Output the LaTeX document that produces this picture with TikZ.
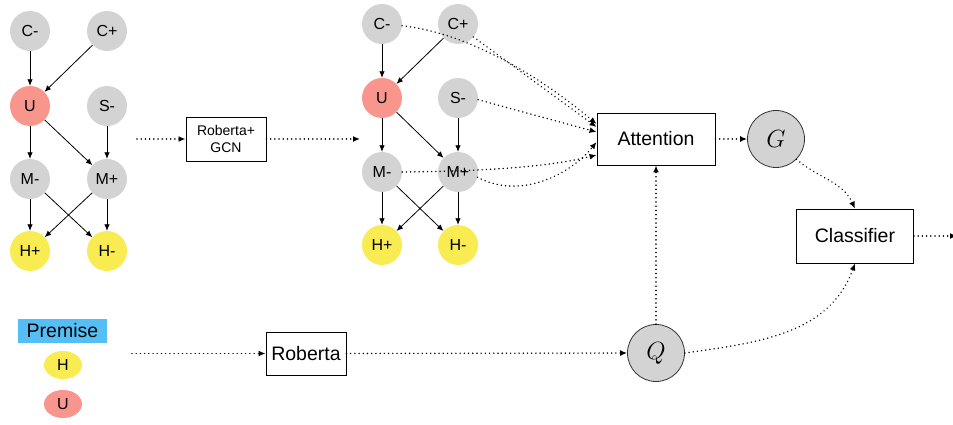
\documentclass[tikz,border=0pt]{standalone}
\usepackage{fontspec}
\setmainfont{Liberation Sans}
\usetikzlibrary{arrows.meta,calc,shapes.geometric}
\definecolor{gnode}{RGB}{211,211,211}
\definecolor{rnode}{RGB}{248,150,141}
\definecolor{ynode}{RGB}{249,236,82}
\definecolor{bnode}{RGB}{85,190,245}
\definecolor{cborder}{RGB}{50,50,50}
\begin{document}
\begin{tikzpicture}[x=1pt,y=1pt,
  gn/.style={circle,minimum size=40pt,inner sep=0pt,fill=gnode,font=\fontsize{16}{19}\selectfont},
  rn/.style={gn,fill=rnode},
  yn/.style={gn,fill=ynode},
  gedge/.style={line width=0.8pt,-{Latex[length=6.5pt,width=5.5pt]}},
  dotline/.style={line width=1.6pt,line cap=round,dash pattern=on 0.01pt off 4.2pt,-{Latex[length=7pt,width=6pt]}},
  boxs/.style={draw,line width=0.9pt,inner sep=0pt,align=center},
  bigfont/.style={font=\fontsize{19.5}{23}\selectfont},
  mcirc/.style={circle,minimum size=57pt,inner sep=0pt,fill=gnode,draw=cborder,line width=0.8pt,font=\fontsize{25}{28}\selectfont},
  pell/.style={ellipse,minimum width=38pt,minimum height=28pt,inner sep=0pt,font=\fontsize{16}{19}\selectfont}
]
\useasboundingbox (0,0) rectangle (953,-425);

% left graph
\node[gn] (lcm) at (30,-31) {C-};
\node[gn] (lcp) at (107,-31) {C+};
\node[rn] (lu) at (30,-106) {U};
\node[gn] (lsm) at (107,-106) {S-};
\node[gn] (lmm) at (30,-179) {M-};
\node[gn] (lmp) at (107,-179) {M+};
\node[yn] (lhp) at (30,-251) {H+};
\node[yn] (lhm) at (107,-251) {H-};
\draw[gedge] (lcm) -- (lu);
\draw[gedge] (lcp) -- (lu);
\draw[gedge] (lu) -- (lmm);
\draw[gedge] (lu) -- (lmp);
\draw[gedge] (lsm) -- (lmp);
\draw[gedge] (lmm) -- (lhp);
\draw[gedge] (lmm) -- (lhm);
\draw[gedge] (lmp) -- (lhp);
\draw[gedge] (lmp) -- (lhm);

% Roberta+GCN
\node[boxs,minimum width=80pt,minimum height=44pt,font=\fontsize{14}{17}\selectfont] (rg) at (226,-139) {Roberta+\\GCN};
\coordinate (rgin) at (137,-139);
\coordinate (rgout) at (360,-139);
\draw[dotline] (rgin) -- (rg.west);
\draw[dotline] (rg.east) -- (rgout);

% middle graph
\node[gn] (mcm) at (382,-24) {C-};
\node[gn] (mcp) at (458,-24) {C+};
\node[rn] (mu) at (382,-98) {U};
\node[gn] (msm) at (458,-98) {S-};
\node[gn] (mmm) at (382,-172) {M-};
\node[gn] (mmp) at (458,-172) {M+};
\node[yn] (mhp) at (382,-245) {H+};
\node[yn] (mhm) at (458,-245) {H-};
\draw[gedge] (mcm) -- (mu);
\draw[gedge] (mcp) -- (mu);
\draw[gedge] (mu) -- (mmm);
\draw[gedge] (mu) -- (mmp);
\draw[gedge] (msm) -- (mmp);
\draw[gedge] (mmm) -- (mhp);
\draw[gedge] (mmm) -- (mhm);
\draw[gedge] (mmp) -- (mhp);
\draw[gedge] (mmp) -- (mhm);

% Attention
\node[boxs,bigfont,minimum width=118pt,minimum height=52pt] (att) at (656,-139) {Attention};
\draw[dotline] (mcm.-5) .. controls (460,-32) and (530,-68) .. ($(att.west)+(0,15)$);
\draw[dotline] (mcp.-40) -- ($(att.west)+(0,12)$);
\draw[dotline] (msm.-5) -- ($(att.west)+(0,7)$);
\draw[dotline] (mmm.east) .. controls (510,-171) and (560,-164) .. ($(att.west)+(0,-16)$);
\draw[dotline] (mmp.-15) .. controls (520,-200) and (570,-175) .. ($(att.west)+(0,-3)$);

% G, Classifier
\node[mcirc] (g) at (776,-139) {$G$};
\node[boxs,bigfont,minimum width=117pt,minimum height=54pt] (cls) at (855,-236) {Classifier};
\coordinate (clsout) at (957,-236);
\draw[dotline] (att.east) -- (g.west);
\draw[dotline] (g.-45) to[out=-40,in=115] (cls.north);
\draw[dotline] (cls.east) -- (clsout);

% Premise
\node[fill=bnode,minimum width=89pt,minimum height=24pt,inner sep=0pt,bigfont] (prem) at (62.5,-331) {Premise};
\node[pell,fill=ynode] (ph) at (63,-365) {H};
\node[pell,fill=rnode] (pu) at (63,-404) {U};

% Roberta and Q
\node[boxs,bigfont,minimum width=80pt,minimum height=43pt] (rob) at (306,-353.5) {Roberta};
\coordinate (robin) at (132,-353.5);
\draw[dotline] (robin) -- (rob.west);
\node[mcirc] (q) at (656,-353) {$Q$};
\draw[dotline] (rob.east) -- (q.west);
\draw[dotline] (q.north) -- (att.south);
\draw[dotline] (q.east) to[out=8,in=-110] (cls.south);
\end{tikzpicture}
\end{document}
